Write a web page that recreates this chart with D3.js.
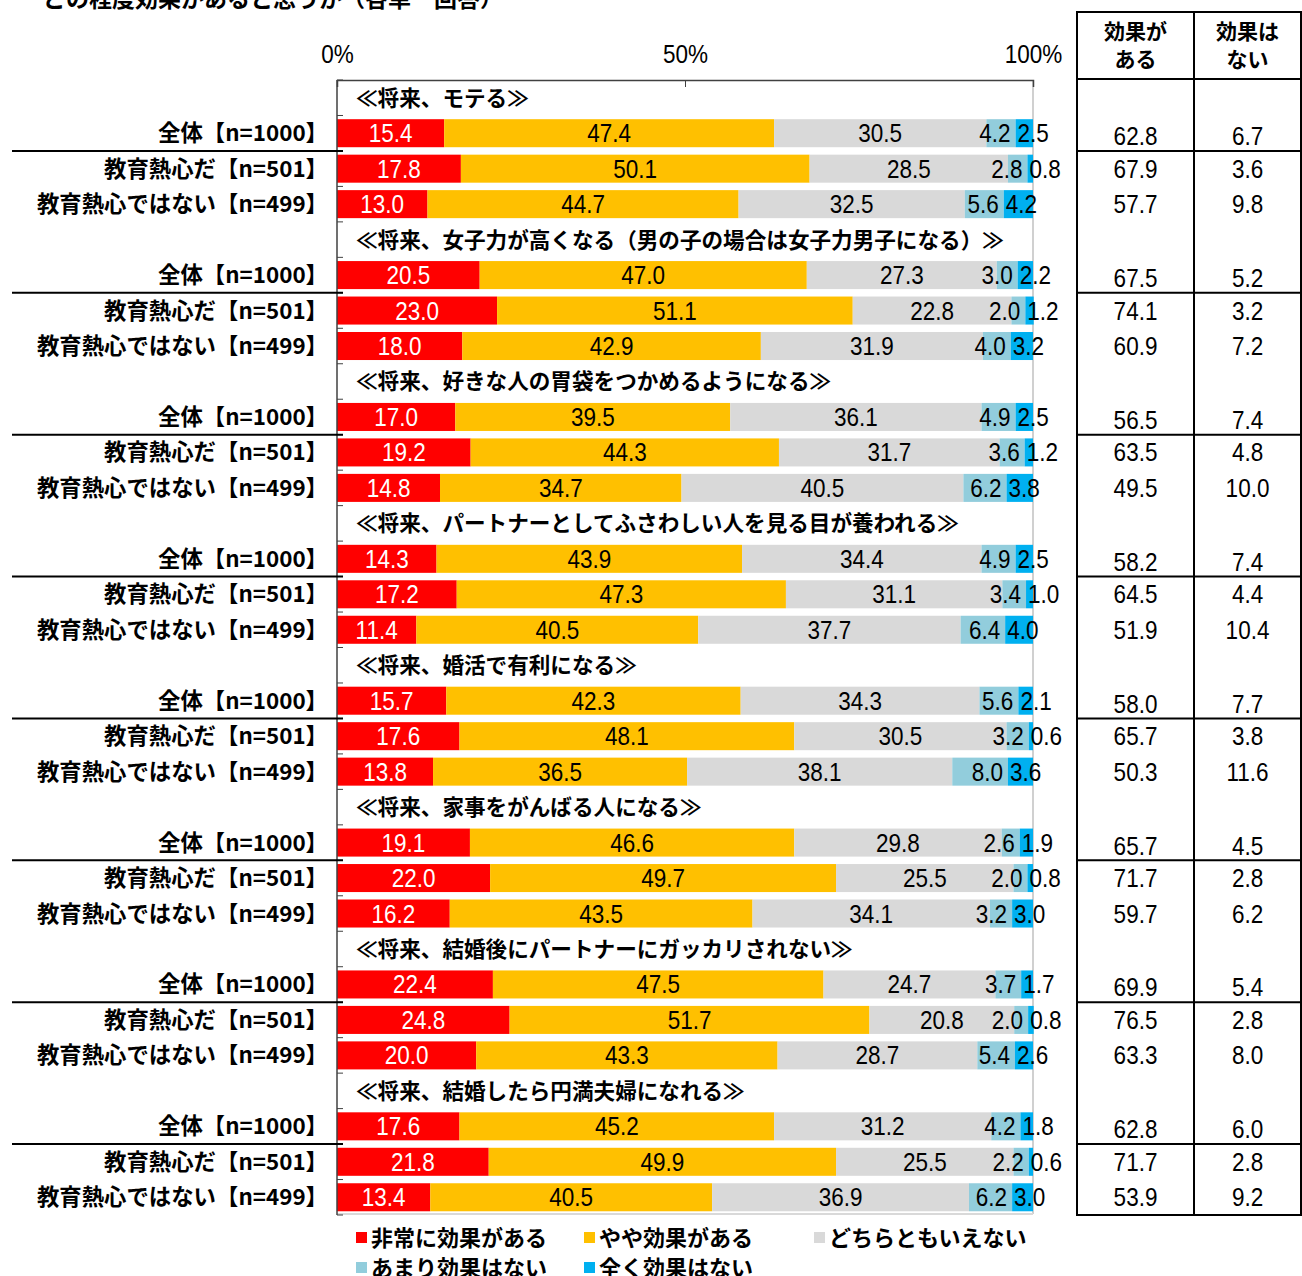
<!DOCTYPE html>
<html>
<head>
<meta charset="utf-8">
<script src="https://cdn.jsdelivr.net/npm/d3@7"></script>
<style>
  body { margin: 0; background: #fff; }
  svg { display: block; }
  .jp { font-family: "Noto Sans CJK JP", "Noto Sans", sans-serif; font-weight: 700; }
  .num { font-family: "Liberation Sans Narrow", "Arial Narrow", "Liberation Sans", sans-serif; }
</style>
</head>
<body>
<svg id="chart"></svg>
<script>
// data
var titles = ["≪将来、モテる≫",
  "≪将来、女子力が高くなる（男の子の場合は女子力男子になる）≫",
  "≪将来、好きな人の胃袋をつかめるようになる≫",
  "≪将来、パートナーとしてふさわしい人を見る目が養われる≫",
  "≪将来、婚活で有利になる≫",
  "≪将来、家事をがんばる人になる≫",
  "≪将来、結婚後にパートナーにガッカリされない≫",
  "≪将来、結婚したら円満夫婦になれる≫"]
var rowLabels = ["全体【n=1000】", "教育熱心だ【n=501】", "教育熱心ではない【n=499】"]
var series = ["非常に効果がある", "やや効果がある", "どちらともいえない", "あまり効果はない", "全く効果はない"]
var colors = ["#ff0000", "#ffc000", "#d9d9d9", "#92cddc", "#00b0f0"]

var values = [
  [[15.4, 47.4, 30.5, 4.2, 2.5], [17.8, 50.1, 28.5, 2.8, 0.8], [13.0, 44.7, 32.5, 5.6, 4.2]],
  [[20.5, 47.0, 27.3, 3.0, 2.2], [23.0, 51.1, 22.8, 2.0, 1.2], [18.0, 42.9, 31.9, 4.0, 3.2]],
  [[17.0, 39.5, 36.1, 4.9, 2.5], [19.2, 44.3, 31.7, 3.6, 1.2], [14.8, 34.7, 40.5, 6.2, 3.8]],
  [[14.3, 43.9, 34.4, 4.9, 2.5], [17.2, 47.3, 31.1, 3.4, 1.0], [11.4, 40.5, 37.7, 6.4, 4.0]],
  [[15.7, 42.3, 34.3, 5.6, 2.1], [17.6, 48.1, 30.5, 3.2, 0.6], [13.8, 36.5, 38.1, 8.0, 3.6]],
  [[19.1, 46.6, 29.8, 2.6, 1.9], [22.0, 49.7, 25.5, 2.0, 0.8], [16.2, 43.5, 34.1, 3.2, 3.0]],
  [[22.4, 47.5, 24.7, 3.7, 1.7], [24.8, 51.7, 20.8, 2.0, 0.8], [20.0, 43.3, 28.7, 5.4, 2.6]],
  [[17.6, 45.2, 31.2, 4.2, 1.8], [21.8, 49.9, 25.5, 2.2, 0.6], [13.4, 40.5, 36.9, 6.2, 3.0]]
]
var effective = [[62.8, 67.9, 57.7], [67.5, 74.1, 60.9], [56.5, 63.5, 49.5], [58.2, 64.5, 51.9],
  [58.0, 65.7, 50.3], [65.7, 71.7, 59.7], [69.9, 76.5, 63.3], [62.8, 71.7, 53.9]]
var notEffective = [[6.7, 3.6, 9.8], [5.2, 3.2, 7.2], [7.4, 4.8, 10.0], [7.4, 4.4, 10.4],
  [7.7, 3.8, 11.6], [4.5, 2.8, 6.2], [5.4, 2.8, 8.0], [6.0, 2.8, 9.2]]
var xTicks = [0, 50, 100]
var tableHead = [["効果が", "ある"], ["効果は", "ない"]]
var heading = "どの程度効果があると思うか（各単一回答）"

var W = 1302, H = 1276
var numScale = 0.9
var svg = d3.select("#chart").attr("width", W).attr("height", H)

// rows: title, 全体, 501, 499 per group
var rowKeys = []
titles.forEach(function(t, g) {
  rowKeys.push("t" + g); rowKeys.push("r" + g + "_0"); rowKeys.push("r" + g + "_1"); rowKeys.push("r" + g + "_2")
})

var x = d3.scaleLinear().domain([0, 100]).range([337, 1033])
var y = d3.scaleBand().domain(rowKeys).range([80, 1215]).paddingInner(0.21).paddingOuter(0.105)

// narrow numbers: squeeze horizontally around the anchor
function numText(sel, fx, fy) {
  sel.attr("class", "num")
    .attr("x", 0).attr("y", 0)
    .attr("transform", function(d, i) { return "translate(" + fx(d, i) + "," + fy(d, i) + ") scale(" + numScale + ",1)" })
}

// heading (cut at top)
svg.append("text").attr("class", "jp").attr("x", 43).attr("y", 7)
  .attr("font-size", 23).text(heading)

// plot border
svg.append("line").attr("x1", x(100)).attr("x2", x(100)).attr("y1", 80).attr("y2", 1214)
  .attr("stroke", "#d0d0d0").attr("stroke-width", 2)
svg.append("line").attr("x1", x(0)).attr("x2", x(100)).attr("y1", 1214).attr("y2", 1214)
  .attr("stroke", "#d9d9d9").attr("stroke-width", 2)

// bars
var rows = []
values.forEach(function(grp, g) {
  grp.forEach(function(v, r) {
    var acc = 0
    v.forEach(function(val, s) {
      rows.push({key: "r" + g + "_" + r, s: s, x0: acc, x1: acc + val, v: val})
      acc += val
    })
  })
})

svg.append("g").selectAll("rect").data(rows).join("rect")
  .attr("x", function(d) { return x(d.x0) })
  .attr("y", function(d) { return y(d.key) })
  .attr("width", function(d) { return x(d.x1) - x(d.x0) })
  .attr("height", y.bandwidth())
  .attr("fill", function(d) { return colors[d.s] })

// small segments: 4th label right-aligned to its end, 5th starts at its start
svg.append("g").selectAll("text").data(rows).join("text")
  .call(numText, function(d) {
    if (d.s == 3) return x(d.x1) - 5
    if (d.s == 4) return x(d.x0) + 2
    return (x(d.x0) + x(d.x1)) / 2
  }, function(d) { return y(d.key) + y.bandwidth() / 2 + 9 })
  .attr("text-anchor", function(d) { return d.s == 3 ? "end" : d.s == 4 ? "start" : "middle" })
  .attr("font-size", 25)
  .attr("fill", function(d) { return d.s == 0 ? "#fff" : "#000" })
  .text(function(d) { return d.v.toFixed(1) })

// top axis
var xAxis = svg.append("g").attr("transform", "translate(0,80)")
  .call(d3.axisTop(x).tickValues(xTicks).tickSize(-7).tickFormat(function(d) { return d + "%" }).tickPadding(17))
xAxis.select(".domain").attr("stroke", "#404040").attr("stroke-width", 1.5)
xAxis.selectAll(".tick line").attr("stroke", "#404040")
xAxis.selectAll("text").attr("font-family", null).attr("font-size", 25).attr("fill", "#000")
  .attr("class", "num").attr("transform", "scale(" + numScale + ",1)")
  .attr("x", 0)

// left axis with ticks at band edges
var yAxis = svg.append("g").attr("transform", "translate(" + x(0) + ",0)")
yAxis.append("line").attr("x1", 0).attr("x2", 0).attr("y1", 80).attr("y2", 1215)
  .attr("stroke", "#404040").attr("stroke-width", 1.5)
yAxis.selectAll(".yt").data(d3.range(rowKeys.length + 1)).join("line")
  .attr("x1", 0).attr("x2", 6)
  .attr("y1", function(i) { return 80 + i * y.step() })
  .attr("y2", function(i) { return 80 + i * y.step() })
  .attr("stroke", "#404040")

// group titles
svg.append("g").selectAll("text").data(titles).join("text")
  .attr("class", "jp")
  .attr("x", 356)
  .attr("y", function(d, g) { return y("t" + g) + y.bandwidth() / 2 + 8 })
  .attr("font-size", 21.6)
  .text(function(d) { return d })

// row labels
var labelData = []
titles.forEach(function(t, g) {
  rowLabels.forEach(function(l, r) {
    labelData.push({key: "r" + g + "_" + r, label: l, g: g, r: r})
  })
})
svg.append("g").selectAll("text").data(labelData).join("text")
  .attr("class", "jp")
  .attr("x", 328)
  .attr("y", function(d) { return y(d.key) + y.bandwidth() / 2 + 8 })
  .attr("text-anchor", "end")
  .attr("font-size", 22.4)
  .text(function(d) { return d.label })

// separators
var sepY = titles.map(function(t, g) { return y("r" + g + "_1") - (y.step() - y.bandwidth()) / 2 })
svg.append("g").selectAll("line").data(sepY).join("line")
  .attr("x1", 12).attr("x2", 343)
  .attr("y1", function(d) { return d }).attr("y2", function(d) { return d })
  .attr("stroke", "#000").attr("stroke-width", 2)

// table
var tx = [1077, 1194, 1301]
var tbl = svg.append("g")
tbl.append("rect").attr("x", tx[0]).attr("y", 12).attr("width", tx[2] - tx[0]).attr("height", 1215 - 12)
  .attr("fill", "none").attr("stroke", "#000").attr("stroke-width", 2)
tbl.append("line").attr("x1", tx[1]).attr("x2", tx[1]).attr("y1", 12).attr("y2", 1215)
  .attr("stroke", "#000").attr("stroke-width", 2)
tbl.append("line").attr("x1", tx[0]).attr("x2", tx[2]).attr("y1", 79).attr("y2", 79)
  .attr("stroke", "#000").attr("stroke-width", 2)
tbl.selectAll(".sep").data(sepY).join("line")
  .attr("x1", tx[0]).attr("x2", tx[2])
  .attr("y1", function(d) { return d }).attr("y2", function(d) { return d })
  .attr("stroke", "#000").attr("stroke-width", 2)

tableHead.forEach(function(lines, c) {
  var cx = (tx[c] + tx[c + 1]) / 2
  lines.forEach(function(l, i) {
    tbl.append("text").attr("class", "jp").attr("x", cx).attr("y", 39 + i * 28)
      .attr("text-anchor", "middle").attr("font-size", 21).text(l)
  })
})

var cellData = []
titles.forEach(function(t, g) {
  rowLabels.forEach(function(l, r) {
    cellData.push({key: "r" + g + "_" + r, r: r, a: effective[g][r], b: notEffective[g][r]})
  })
})
;[0, 1].forEach(function(c) {
  tbl.append("g").selectAll("text").data(cellData).join("text")
    .call(numText, function() { return (tx[c] + tx[c + 1]) / 2 },
      function(d) { return y(d.key) + y.bandwidth() / 2 + 9 + (d.r == 0 ? 3 : 0) })
    .attr("text-anchor", "middle")
    .attr("font-size", 25)
    .text(function(d) { return (c == 0 ? d.a : d.b).toFixed(1) })
})

// legend
var legPos = [[356, 1238], [584, 1238], [814, 1238], [356, 1268], [584, 1268]]
var leg = svg.append("g").selectAll("g").data(series).join("g")
  .attr("transform", function(d, i) { return "translate(" + legPos[i][0] + "," + legPos[i][1] + ")" })
leg.append("rect").attr("x", 0).attr("y", -6).attr("width", 11).attr("height", 11)
  .attr("fill", function(d, i) { return colors[i] })
leg.append("text").attr("class", "jp").attr("x", 15).attr("y", 8)
  .attr("font-size", 22).text(function(d) { return d })
</script>
</body>
</html>
